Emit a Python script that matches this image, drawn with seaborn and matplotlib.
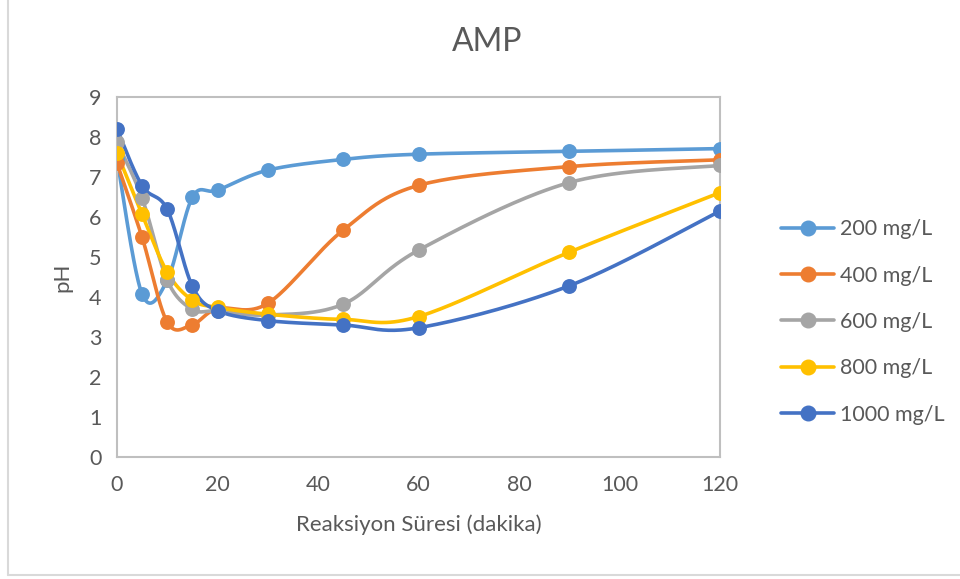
import numpy as np
import pandas as pd
import matplotlib
matplotlib.use("Agg")
import matplotlib.pyplot as plt
import seaborn as sns
from matplotlib.lines import Line2D

# ---- data ----
time_min = [0, 5, 10, 15, 20, 30, 45, 60, 90, 120]
series_names = ["200 mg/L", "400 mg/L", "600 mg/L", "800 mg/L", "1000 mg/L"]
ph_200 = [7.45, 4.07, 4.42, 6.49, 6.67, 7.17, 7.44, 7.57, 7.64, 7.71]
ph_400 = [7.34, 5.49, 3.37, 3.31, 3.71, 3.84, 5.67, 6.79, 7.26, 7.43]
ph_600 = [7.87, 6.47, 4.42, 3.69, 3.65, 3.55, 3.82, 5.17, 6.86, 7.29]
ph_800 = [7.60, 6.07, 4.62, 3.92, 3.74, 3.57, 3.44, 3.51, 5.12, 6.61]
ph_1000 = [8.20, 6.78, 6.19, 4.27, 3.66, 3.41, 3.30, 3.23, 4.28, 6.15]
colors = ["#5B9BD5", "#ED7D31", "#A5A5A5", "#FFC000", "#4472C4"]
x_ticks = [0, 20, 40, 60, 80, 100, 120]
y_ticks = list(range(0, 10))

all_series = [ph_200, ph_400, ph_600, ph_800, ph_1000]


def excel_smooth(xs, ys, n=40):
    xs = np.asarray(xs, float)
    ys = np.asarray(ys, float)
    pts = np.column_stack([xs, ys])
    out = []
    m = len(pts)
    for i in range(m - 1):
        p0 = pts[i - 1] if i > 0 else pts[i]
        p1 = pts[i]
        p2 = pts[i + 1]
        p3 = pts[i + 2] if i + 2 < m else pts[i + 1]
        c1 = p1 + (p2 - p0) / 6.0
        c2 = p2 - (p3 - p1) / 6.0
        t = np.linspace(0, 1, n, endpoint=(i == m - 2))[:, None]
        seg = ((1 - t) ** 3) * p1 + 3 * ((1 - t) ** 2) * t * c1 + 3 * (1 - t) * t ** 2 * c2 + t ** 3 * p2
        out.append(seg)
    out = np.vstack(out)
    return out[:, 0], out[:, 1]


sns.set_theme(style="white")
plt.rcParams["font.family"] = ["Lato", "DejaVu Sans"]

fig = plt.figure(figsize=(9.6, 5.79), dpi=100)
ax = fig.add_axes([117 / 960, 1 - 457 / 579, (720 - 117) / 960, (457 - 97) / 579])

txt_color = "#595959"
frame_color = "#BFBFBF"

for name, ys, col in zip(series_names, all_series, colors):
    sx, sy = excel_smooth(time_min, ys)
    curve = pd.DataFrame({"t": sx, "ph": sy})
    sns.lineplot(data=curve, x="t", y="ph", sort=False, estimator=None,
                 color=col, linewidth=2.6, ax=ax, legend=False)
    pts = pd.DataFrame({"t": time_min, "ph": ys})
    sns.scatterplot(data=pts, x="t", y="ph", color=col, s=115,
                    edgecolor=col, linewidth=0, ax=ax, legend=False, zorder=3)

ax.set_xlim(0, 120)
ax.set_ylim(0, 9)
ax.set_xticks(x_ticks)
ax.set_yticks(y_ticks)
ax.tick_params(axis="both", colors=txt_color, labelsize=15.5, length=5,
               width=1.3, direction="out", pad=6)
ax.tick_params(axis="x", color=frame_color, pad=8)
ax.tick_params(axis="y", color=frame_color)
for sp in ax.spines.values():
    sp.set_color(frame_color)
    sp.set_linewidth(1.5)
    sp.set_visible(True)

ax.set_xlabel("Reaksiyon Süresi (dakika)", fontsize=16, color=txt_color, labelpad=14)
ax.set_ylabel("pH", fontsize=16, color=txt_color, labelpad=12)

fig.text(487 / 960, 1 - 42 / 579, "AMP", ha="center", va="center",
         fontsize=23, color=txt_color)

handles = [Line2D([0], [0], color=c, lw=2.6, marker="o", markersize=10.5,
                  markerfacecolor=c, markeredgecolor=c) for c in colors]
fig.legend(handles, series_names, loc="center left",
           bbox_to_anchor=(772 / 960, 1 - 322 / 579), frameon=False,
           fontsize=15.5, labelcolor=txt_color, handlelength=2.5,
           handletextpad=0.25, labelspacing=1.22, borderaxespad=0)

# outer chart-area border lines
fig.add_artist(Line2D([8 / 960, 8 / 960], [1 - 575 / 579, 1.0],
                      transform=fig.transFigure, color="#D9D9D9", lw=1.5))
fig.add_artist(Line2D([8 / 960, 1.0], [1 - 575 / 579, 1 - 575 / 579],
                      transform=fig.transFigure, color="#D9D9D9", lw=1.5))

fig.savefig("out.png", dpi=100, facecolor="white")
